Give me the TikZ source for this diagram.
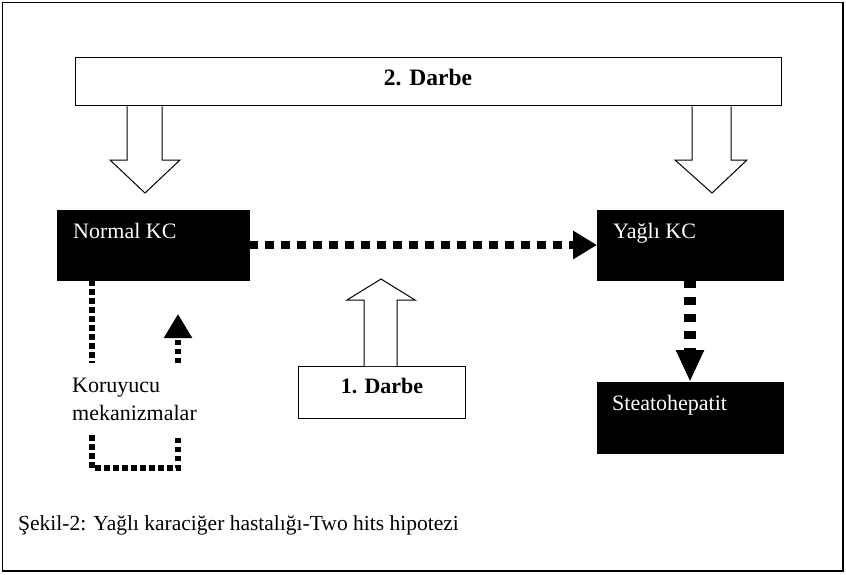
\documentclass[tikz,border=0pt]{standalone}
\usepackage{fontspec}
\setmainfont{Liberation Serif}
\usetikzlibrary{arrows.meta}
\begin{document}
\begin{tikzpicture}[x=1pt,y=-1pt,
  txt/.style={inner sep=0pt,font=\fontsize{22}{26}\selectfont},
  wtxt/.style={txt,text=white,anchor=base west},
  blackbox/.style={draw=black,fill=black,minimum width=186pt,minimum height=70pt,inner sep=0pt,anchor=north west},
  whitebox/.style={draw=black,line width=1.3pt,fill=white,inner sep=0pt,anchor=north west},
  hollow/.style={draw=black,line width=1pt,fill=white,line join=miter},
  dotA/.style={line width=7.5pt,dash pattern=on 9pt off 7pt,-{Triangle[length=24pt,width=27pt]}},
  dotB/.style={line width=12pt,dash pattern=on 8pt off 9pt,-{Triangle[length=32pt,width=26pt]}},
  dotC/.style={line width=5.5pt,dash pattern=on 5.5pt off 3.5pt},
  dotCarrow/.style={dotC,-{Triangle[length=24pt,width=27pt]}}
]
\useasboundingbox (0,0) rectangle (846,574);
\draw[line width=1.5pt] (2.5,2.5) rectangle (843,571);

% 2. Darbe box
\node[whitebox,minimum width=706pt,minimum height=48pt] (d2) at (75,57) {};
\node[txt,font=\fontsize{23.5}{26}\selectfont\bfseries,anchor=base] (d2t) at (428,85) {2. Darbe};

% hollow arrows down
\draw[hollow] (d2.south -| 127,0) -- (127,160) -- (110,160) -- (145,193) -- (180,160) -- (162,160) -- (d2.south -| 162,0);
\draw[hollow] (d2.south -| 692,0) -- (692,160) -- (675,160) -- (712,193) -- (747,160) -- (731,160) -- (d2.south -| 731,0);

% black boxes
\node[blackbox,minimum width=192pt] (nkc) at (57,210) {};
\node[wtxt] (nkct) at ([xshift=16pt,yshift=-28pt]nkc.north west) {Normal KC};
\node[blackbox] (ykc) at (597,210) {};
\node[wtxt] (ykct) at ([xshift=16pt,yshift=-28pt]ykc.north west) {Yağlı KC};
\node[blackbox,minimum height=71pt] (st) at (597,382) {};
\node[wtxt] (stt) at ([xshift=15pt,yshift=-28pt]st.north west) {Steatohepatit};

% 1. Darbe box and hollow up arrow
\node[whitebox,minimum width=167pt,minimum height=52pt] (d1) at (298,366) {};
\node[txt,font=\fontsize{22}{26}\selectfont\bfseries,anchor=base] (d1t) at (382,393) {1. Darbe};
\draw[hollow] (d1.north -| 364,0) -- (364,300) -- (347,300) -- (381,279) -- (415,300) -- (397,300) -- (d1.north -| 397,0);

% dotted connectors
\draw[dotA] (nkc.east |- 0,245) -- (ykc.west |- 0,245);
\draw[dotB] (ykc.south -| 690,0) -- (st.north -| 690,0);

% protective mechanisms loop
\node[txt,anchor=base west] (kor) at (72,392) {Koruyucu};
\node[txt,anchor=base west] (mek) at (72,420) {mekanizmalar};
\coordinate (l1) at (92,363);
\coordinate (l2) at (92,435);
\coordinate (l3) at (92,468);
\coordinate (l4) at (178,468);
\coordinate (l5) at (178,435);
\coordinate (l6) at (178,363);
\coordinate (l7) at (178,314);
\draw[dotC] (nkc.south -| l1) -- (l1);
\draw[dotC] (l2) -- (l3) -- (l4) -- (l5);
\draw[dotCarrow] (l6) -- (l7);

% caption
\node[txt,font=\fontsize{21.5}{26}\selectfont,anchor=base west] (cap) at (18,530) {Şekil-2: Yağlı karaciğer hastalığı-Two hits hipotezi};
\end{tikzpicture}
\end{document}
